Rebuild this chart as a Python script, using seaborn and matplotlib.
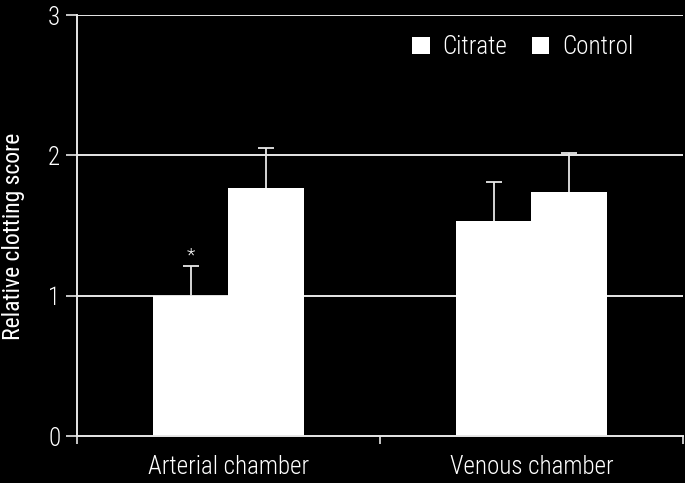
import matplotlib
matplotlib.use("Agg")
import matplotlib.pyplot as plt
import seaborn as sns
import pandas as pd
import numpy as np
from matplotlib.ticker import FixedLocator

chambers = ["Arterial chamber", "Venous chamber"]
groups = ["Citrate", "Control"]
citrate_vals = [1.00, 1.53]
control_vals = [1.77, 1.74]
citrate_err = [0.21, 0.28]
control_err = [0.28, 0.28]
y_ticks = [0, 1, 2, 3]

sns.set_theme(style="dark")
plt.rcParams['font.family'] = ['Roboto Condensed', 'DejaVu Sans']
plt.rcParams['font.weight'] = 'light'

df = pd.DataFrame({
    "chamber": chambers * 2,
    "group": [groups[0]] * 2 + [groups[1]] * 2,
    "value": citrate_vals + control_vals,
    "err": citrate_err + control_err,
})

fig = plt.figure(figsize=(6.85, 4.83), dpi=100, facecolor="black")
ax = fig.add_axes([77/685, 47/483, (683-77)/685, (436-15)/483])
ax.set_facecolor("black")

fg = "#e8e8e8"
sns.barplot(data=df, x="chamber", y="value", hue="group", order=chambers,
            hue_order=groups, palette=["white", "white"], width=0.5, gap=0,
            errorbar=None, saturation=1, linewidth=0, ax=ax, zorder=3)

# error bars (upper only) from bar positions
for patch_group, grp in zip(ax.containers, groups):
    sub = df[df["group"] == grp].set_index("chamber").loc[chambers]
    xs = [p.get_x() + p.get_width() / 2 for p in patch_group]
    ys = sub["value"].values
    errs = sub["err"].values
    _, caps, _ = ax.errorbar(xs, ys, yerr=[np.zeros_like(errs), errs], fmt="none",
                             ecolor=fg, elinewidth=1.3, capsize=6, capthick=1.3, zorder=4)
    caps[0].set_visible(False)

# significance marker
p0 = ax.containers[0][0]
ax.text(p0.get_x() + p0.get_width() / 2, citrate_vals[0] + citrate_err[0] + 0.015, "*",
        color="white", ha="center", va="bottom", fontsize=14)

ax.set_ylim(0, 3)
ax.set_xlim(-0.5, 1.5)
ax.set_yticks(y_ticks)
ax.set_yticklabels([str(t) for t in y_ticks], color="white", fontsize=18)
ax.set_xticks(range(len(chambers)))
ax.set_xticklabels(chambers, color="white", fontsize=18)
ax.xaxis.set_minor_locator(FixedLocator([-0.5, 0.5, 1.5]))
ax.tick_params(axis="x", which="major", length=0, pad=14)
ax.tick_params(axis="x", which="minor", length=6, color=fg, width=1.2, direction="out", bottom=True)
ax.tick_params(axis="y", length=8, color=fg, width=1.2, direction="out", left=True, pad=4)

ax.grid(False)
for t in y_ticks[1:]:
    ax.axhline(t, color=fg, linewidth=1.4, zorder=1)
for s in ["top", "right"]:
    ax.spines[s].set_visible(False)
for s in ["left", "bottom"]:
    ax.spines[s].set_color(fg)
    ax.spines[s].set_linewidth(1.4)
    ax.spines[s].set_zorder(5)

ax.set_xlabel("")
ax.set_ylabel("Relative clotting score", color="white", fontsize=17)
ax.yaxis.set_label_coords(-0.086, 0.475)

handles, labels = ax.get_legend_handles_labels()
leg = ax.legend(handles, labels, ncol=2, loc="upper right", bbox_to_anchor=(0.955, 1.005),
                frameon=False, fontsize=18, handlelength=0.7, handleheight=0.7,
                handletextpad=0.5, columnspacing=1.0, labelcolor="white")

fig.savefig("out.png", dpi=100, facecolor="black")
